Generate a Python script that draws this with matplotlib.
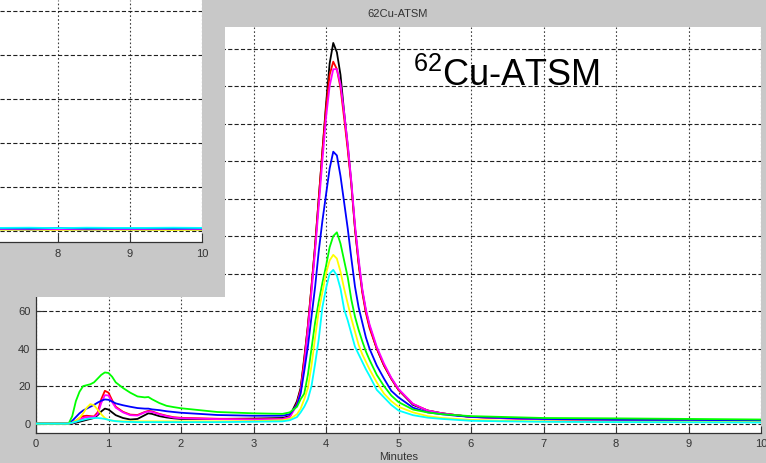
import matplotlib
matplotlib.use("Agg")
import matplotlib.pyplot as plt
from matplotlib.patches import Rectangle

plt.rcParams['font.family'] = ['Liberation Sans', 'DejaVu Sans']
plt.rcParams['mathtext.fontset'] = 'custom'
plt.rcParams['mathtext.rm'] = 'Liberation Sans'
plt.rcParams['mathtext.it'] = 'Liberation Sans'
plt.rcParams['mathtext.bf'] = 'Liberation Sans'
plt.rcParams['lines.scale_dashes'] = False

# ---------------- data ----------------
minutes = [0, 0.45, 0.5, 0.55, 0.6, 0.65, 0.7, 0.75, 0.8, 0.85,
           0.9, 0.95, 1.0, 1.05, 1.1, 1.2, 1.3, 1.4, 1.5, 1.55,
           1.6, 1.7, 1.8, 1.9, 2.0, 2.5, 3.0, 3.4, 3.5, 3.6,
           3.65, 3.7, 3.75, 3.8, 3.85, 3.9, 3.95, 4.0, 4.05, 4.1,
           4.15, 4.2, 4.25, 4.3, 4.35, 4.4, 4.45, 4.5, 4.55, 4.6, 4.7,
           4.8, 4.9, 5.0, 5.2, 5.4, 5.6, 5.8, 6.0, 6.5, 7.0,
           8.0, 9.0, 10.0]

black = [0, 0, 0, 0.5, 1, 1.5, 2, 2.5, 3, 4.5,
         6.5, 8, 7.5, 6, 4.5, 3, 2.2, 2.5, 4.5, 5.5,
         5.2, 4, 3.3, 2.8, 2.5, 2.5, 2.7, 3, 4, 12,
         19, 35, 52, 73, 95, 120, 145, 170, 192, 203,
         198, 186, 166, 148, 128, 104, 86, 71, 60, 52, 40,
         31, 24, 18, 10, 7, 5.5, 4.5, 3.6, 3, 2.5,
         2, 1.8, 1.5]

red = [0, 0, 0.5, 1.5, 3, 4, 4.2, 4, 3.8, 6,
       13, 17.5, 16.5, 12.5, 9, 6.3, 4.8, 4.6, 6.2, 6.8,
       6.5, 5.2, 4.2, 3.4, 3.1, 2.6, 2.3, 2.5, 3.5, 11,
       18, 34, 52, 73, 95, 120, 145, 168, 186, 193,
       189, 179, 163, 146, 127, 104, 85, 70, 59, 51, 40,
       31, 24, 18, 10.5, 7, 5.5, 4.5, 3.6, 2.8, 2.3,
       1.8, 1.5, 1.3]

magenta = [0, 0, 0.3, 1, 2, 3, 3.5, 3.5, 3.5, 5,
           11, 15.2, 15, 11.5, 8.5, 6, 4.5, 4.3, 6, 6.5,
           6.2, 5, 4, 3.2, 2.9, 2.4, 2.2, 2.4, 3.5, 10,
           17, 31, 50, 70, 92, 116, 140, 163, 180, 189,
           189, 181, 166, 149, 129, 106, 88, 72, 61, 53, 41,
           32, 24.5, 18.5, 10.5, 7, 5.5, 4.5, 3.5, 2.8, 2.3,
           1.8, 1.5, 1.3]

blue = [0, 0, 1.5, 3.5, 5.5, 7, 8, 9, 10, 11.2,
        12.2, 12.9, 12.7, 11.8, 10.8, 9.8, 9, 8.3, 8, 8,
        7.6, 7.2, 6.6, 6.2, 5.8, 4.6, 4.2, 4.2, 5, 10,
        16, 28, 41, 57, 73, 92, 108, 122, 136, 145,
        143, 132, 118, 104, 88, 73, 62, 54, 46, 40, 31,
        24, 17.5, 14, 8.5, 6, 5, 4.2, 3.6, 3, 2.5,
        2, 1.8, 1.5]

green = [0, 0, 4, 12, 17, 20, 20.5, 21, 22, 24,
         26, 27.3, 27, 25, 22, 19, 16.5, 14.5, 14, 14.2,
         13, 11, 9.5, 8.8, 8.2, 6.2, 5.5, 5.2, 6, 9,
         13, 16, 26, 40, 54, 65, 75, 84, 94, 100,
         102, 96, 87, 78, 66, 57, 50, 44, 38.5, 34, 26,
         20, 15, 11.5, 7.5, 6, 5, 4.5, 4, 3.5, 3,
         2.8, 2.5, 2.2]

yellow = [0, 0, 0.5, 1.5, 3, 5.5, 8.5, 10.4, 9.8, 7.5,
          5, 3, 2, 1.6, 1.4, 1.2, 1.2, 1.2, 1.2, 1.2,
          1.2, 1.2, 1.2, 1.2, 1.2, 1.2, 1.3, 1.8, 2.5, 5,
          8, 13, 19, 31, 46, 60, 70, 80, 87, 90,
          88, 81, 72, 64, 56, 49, 42, 37, 33, 29, 22,
          16, 12, 9, 6, 4, 3, 2.5, 2, 1.5, 1.2,
          1, 1, 0.8]

cyan = [0, 0, 0.5, 1, 1.5, 2, 2.5, 2.8, 3, 3,
        2.8, 2.5, 2, 1.6, 1.3, 1, 0.9, 0.8, 0.8, 0.8,
        0.8, 0.8, 0.8, 0.8, 0.8, 0.8, 1.0, 1.2, 1.8, 3.5,
        6, 9, 13, 20, 32, 45, 62, 72, 80, 82,
        79, 72, 61, 55, 48, 41, 37, 33, 29, 25.5, 18,
        14, 10, 7, 4.5, 3.2, 2.5, 2, 1.5, 1.2, 1,
        0.8, 0.7, 0.6]

x_ticks = [0, 1, 2, 3, 4, 5, 6, 7, 8, 9, 10]
y_ticks = [0, 20, 40, 60, 80, 100, 120, 140, 160, 180, 200]

# background window (partly hidden plot) data
inset_minutes = [7.2, 7.6, 8.0, 8.4, 8.8, 9.2, 9.6, 10.0]
inset_black = [0.8, 0.7, 0.8, 0.7, 0.8, 0.7, 0.8, 0.7]
inset_magenta = [0.9, 1.0, 0.8, 1.0, 0.9, 0.9, 1.0, 0.9]
inset_yellow = [0.6, 0.7, 0.5, 0.7, 0.6, 0.6, 0.5, 0.6]
inset_blue = [1.2, 1.1, 1.3, 1.1, 1.2, 1.2, 1.1, 1.2]
inset_cyan = [1.4, 1.5, 1.3, 1.5, 1.4, 1.4, 1.5, 1.4]
inset_x_ticks = [8, 9, 10]
inset_y_ticks = [0, 20, 40, 60, 80, 100]

series = [(black, '#000000'), (red, '#ff0000'), (magenta, '#ff00ff'),
          (blue, '#0000ff'), (green, '#00ff00'), (yellow, '#ffff00'),
          (cyan, '#00ffff')]
inset_series = [(inset_black, '#000000'), (inset_yellow, '#ffff00'),
                (inset_magenta, '#ff00ff'), (inset_blue, '#0000ff'),
                (inset_cyan, '#00ffff')]

W, H = 766, 463
BG = '#c8c8c8'
fig = plt.figure(figsize=(W / 100, H / 100), dpi=100, facecolor=BG)

# ---------------- main axes ----------------
ax = fig.add_axes([36 / W, (H - 433) / H, 725 / W, 406 / H])
ax.set_facecolor('white')
ax.set_xlim(0, 10)
ax.set_ylim(-5, 211.5)
ax.set_axisbelow(True)
for vals, col in series:
    ax.plot(minutes, vals, color=col, lw=1.3, zorder=3)

ax.set_xticks(x_ticks)
ax.set_yticks(y_ticks)
ax.yaxis.grid(True, color='#202020', lw=0.8, linestyle=(0, (3.0, 1.6)))
ax.xaxis.grid(True, color='#404040', lw=0.8, linestyle=(0, (1.2, 1.6)))
for s in ['top', 'right']:
    ax.spines[s].set_visible(False)
for s in ['left', 'bottom']:
    ax.spines[s].set_color('#333333')
    ax.spines[s].set_linewidth(0.9)
ax.tick_params(direction='in', length=5, width=0.8, color='#333333',
               labelsize=8, labelcolor='#333333', pad=4)
ax.set_xlabel('Minutes', fontsize=8, color='#333333', labelpad=2.5)

fig.text(398 / W, (H - 14) / H, '62Cu-ATSM', ha='center', va='center',
         fontsize=8, color='#333333')
fig.text(413 / W, (H - 86) / H, r'$^{62}$Cu-ATSM', ha='left', va='baseline',
         fontsize=26, color='black', zorder=4)

# ---------------- overlapping window ----------------
fig.add_artist(Rectangle((0, (H - 297) / H), 225 / W, 297 / H,
                         transform=fig.transFigure, facecolor=BG,
                         edgecolor='none', zorder=5))
ax2 = fig.add_axes([0, (H - 242) / H, 202 / W, 242 / H], zorder=6)
ax2.set_facecolor('white')
ax2.set_xlim(10 - 202 / 72, 10)
ax2.set_ylim(-5, 105)
ax2.set_axisbelow(True)
for vals, col in inset_series:
    ax2.plot(inset_minutes, vals, color=col, lw=1.3, zorder=3)
ax2.set_xticks(inset_x_ticks)
ax2.set_yticks(inset_y_ticks)
ax2.set_yticklabels([])
ax2.yaxis.grid(True, color='#202020', lw=0.8, linestyle=(0, (3.0, 1.6)))
ax2.xaxis.grid(True, color='#404040', lw=0.8, linestyle=(0, (1.2, 1.6)))
for s in ['top', 'right', 'left']:
    ax2.spines[s].set_visible(False)
ax2.spines['bottom'].set_color('#333333')
ax2.spines['bottom'].set_linewidth(0.9)
ax2.tick_params(axis='x', direction='in', length=6.5, width=0.8, color='#333333',
                labelsize=8, labelcolor='#333333', pad=5)
ax2.tick_params(axis='y', length=0)

fig.savefig('out.png', dpi=100, facecolor=BG)
